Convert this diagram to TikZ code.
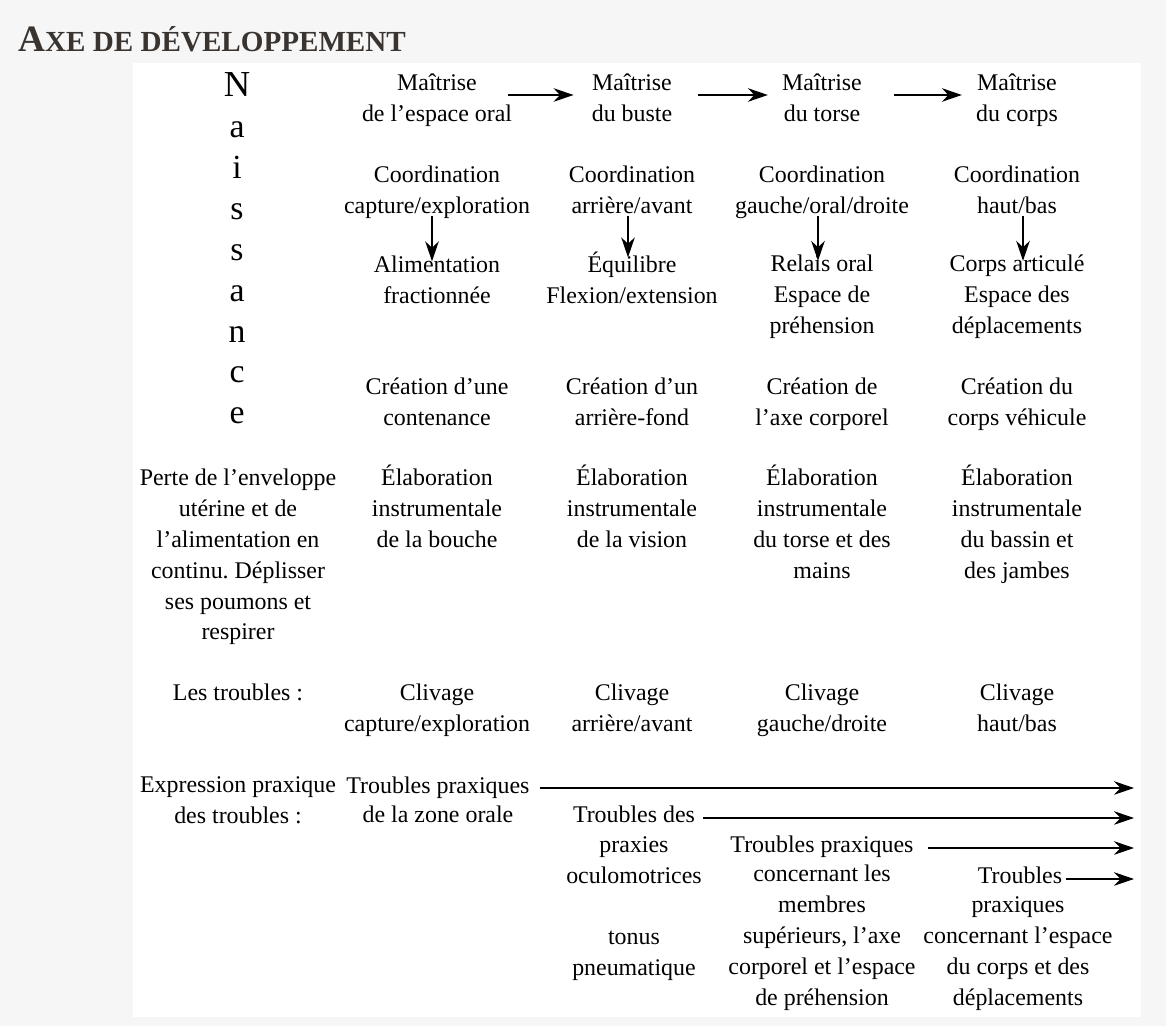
\documentclass[tikz,border=0pt]{standalone}
\usepackage{fontspec}
\setmainfont{Liberation Serif}
\usetikzlibrary{arrows.meta,calc}
\frenchspacing

\definecolor{pagegray}{RGB}{246,246,246}
\definecolor{titlebrown}{RGB}{58,52,48}

\tikzset{
  cell/.style={align=center, inner sep=0pt, font=\fontsize{17}{22}\selectfont,
    execute at begin node=\strut, execute at end node=\strut},
  birth/.style={anchor=base, inner sep=0pt, font=\fontsize{24}{24}\selectfont},
  arr/.style={-{Stealth[length=0.5cm, width=0.34cm]}, line width=1pt},
}

\begin{document}
\begin{tikzpicture}[x=0.025cm, y=-0.025cm]
  \fill[pagegray] (0,0) rectangle (1166,1026);
  \fill[white] (133,63) rectangle (1141,1017);

  \node[anchor=base west, inner sep=0pt, text=titlebrown, font=\bfseries] (title) at (18,52)
    {\fontsize{26.5}{26.5}\selectfont A\fontsize{20.7}{20.7}\selectfont XE DE DÉVELOPPEMENT};

  % Naissance, one letter per line
  \node[birth, font=\fontsize{26}{26}\selectfont] (n1) at (237,96) {N};
  \foreach \i/\l/\yy in {2/a/137, 3/i/178, 4/s/219, 5/s/260, 6/a/301, 7/n/342, 8/c/382, 9/e/423}
    \node[birth] (n\i) at (237,\yy) {\l};

  % maitrise row
  \node[cell] (m1) at (437,102) {Maîtrise\\de l'espace oral};
  \node[cell] (m2) at (632,102) {Maîtrise\\du buste};
  \node[cell] (m3) at (822,102) {Maîtrise\\du torse};
  \node[cell] (m4) at (1017,102) {Maîtrise\\du corps};

  % coordination row
  \node[cell] (co1) at (437,194) {Coordination\\capture/exploration};
  \node[cell] (co2) at (632,194) {Coordination\\arrière/avant};
  \node[cell] (co3) at (822,194) {Coordination\\gauche/oral/droite};
  \node[cell] (co4) at (1017,194) {Coordination\\haut/bas};

  \node[cell] (r1) at (437,284) {Alimentation\\fractionnée};
  \node[cell] (r2) at (632,282) {Équilibre\\Flexion/extension};
  \node[cell] (r3) at (822,299) {Relais oral\\Espace de\\préhension};
  \node[cell] (r4) at (1017,299) {Corps articulé\\Espace des\\déplacements};

  \node[cell] (cr1) at (437,406) {Création d'une\\contenance};
  \node[cell] (cr2) at (632,406) {Création d'un\\arrière-fond};
  \node[cell] (cr3) at (822,406) {Création de\\l'axe corporel};
  \node[cell] (cr4) at (1017,406) {Création du\\corps véhicule};

  % elaboration row
  \node[cell] (el0) at (238,559) {Perte de l'enveloppe\\utérine et de\\l'alimentation en\\continu. Déplisser\\ses poumons et\\respirer};
  \node[cell] (el1) at (437,511) {Élaboration\\instrumentale\\de la bouche};
  \node[cell] (el2) at (632,511) {Élaboration\\instrumentale\\de la vision};
  \node[cell] (el3) at (822,526) {Élaboration\\instrumentale\\du torse et des\\mains};
  \node[cell] (el4) at (1017,526) {Élaboration\\instrumentale\\du bassin et\\des jambes};

  % troubles
  \node[cell] (cl0) at (238,694) {Les troubles :};
  \node[cell] (cl1) at (437,712) {Clivage\\capture/exploration};
  \node[cell] (cl2) at (632,712) {Clivage\\arrière/avant};
  \node[cell] (cl3) at (822,712) {Clivage\\gauche/droite};
  \node[cell] (cl4) at (1017,712) {Clivage\\haut/bas};

  \node[cell] (ex0) at (238,805) {Expression praxique\\des troubles :};
  \node[cell] (t1) at (438,787) {Troubles praxiques};
  \node[cell] (t1b) at (438,816) {de la zone orale};
  \node[cell] (t2) at (634,816) {Troubles des};
  \node[cell] (t2b) at (634,865) {praxies\\oculomotrices};
  \node[cell] (t2c) at (634,958) {tonus\\pneumatique};
  \node[cell] (t3) at (822,846) {Troubles praxiques};
  \node[cell] (t3b) at (822,940) {concernant les\\membres\\supérieurs, l'axe\\corporel et l'espace\\de préhension};
  \node[cell] (t4) at (1020,877) {Troubles};
  \node[cell] (t4b) at (1018,956) {praxiques\\concernant l'espace\\du corps et des\\déplacements};

  \coordinate (e1) at (1134,788);
  \coordinate (e2) at (1134,818);
  \coordinate (e3) at (1134,848);
  \coordinate (e4) at (1134,879);

  % arrows
  \draw[arr, shorten <=-0.1cm, shorten >=0.45cm] ([yshift=0.175cm]m1.east) -- ([yshift=0.175cm]m2.west);
  \draw[arr, shorten <=0.65cm, shorten >=0.35cm] ([yshift=0.175cm]m2.east) -- ([yshift=0.175cm]m3.west);
  \draw[arr, shorten <=0.8cm, shorten >=0.35cm] ([yshift=0.175cm]m3.east) -- ([yshift=0.175cm]m4.west);

  \draw[arr, shorten <=-0.17cm, shorten >=-0.15cm] ($(co1.south)+(-5,0)$) -- ($(r1.north)+(-5,0)$);
  \draw[arr, shorten <=-0.17cm, shorten >=-0.15cm] ($(co2.south)+(-4,0)$) -- ($(r2.north)+(-4,0)$);
  \draw[arr, shorten <=-0.17cm, shorten >=-0.15cm] ($(co3.south)+(-4,0)$) -- ($(r3.north)+(-4,0)$);
  \draw[arr, shorten <=-0.17cm, shorten >=-0.15cm] ($(co4.south)+(6,0)$) -- ($(r4.north)+(6,0)$);

  \draw[arr, shorten <=0.25cm] (t1.east |- e1) -- (e1);
  \draw[arr, shorten <=0.2cm] (t2.east |- e2) -- (e2);
  \draw[arr, shorten <=0.35cm] (t3.east |- e3) -- (e3);
  \draw[arr, shorten <=0.1cm] (t4.east |- e4) -- (e4);
\end{tikzpicture}
\end{document}
